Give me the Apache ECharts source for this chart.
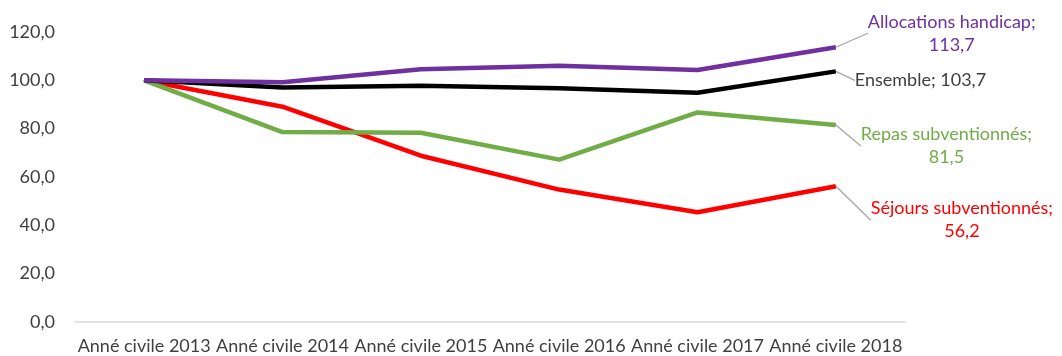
<!DOCTYPE html>
<html>
<head>
<meta charset="utf-8">
<script src="https://cdn.jsdelivr.net/npm/echarts@6/dist/echarts.min.js"></script>
<style>
  html, body { margin: 0; padding: 0; background: #fff; }
  #chart { width: 1062px; height: 356px; }
</style>
</head>
<body>
<div id="chart"></div>
<script>
const categories = ["Anné civile 2013", "Anné civile 2014", "Anné civile 2015", "Anné civile 2016", "Anné civile 2017", "Anné civile 2018"];

const allocations = [100, 99.2, 104.6, 106.0, 104.3, 113.7];
const ensemble = [100, 97.0, 97.8, 96.7, 94.9, 103.7];
const repas = [100, 78.6, 78.3, 67.2, 86.7, 81.5];
const sejours = [100, 89.1, 68.8, 54.8, 45.4, 56.2];

const seriesNames = ["Allocations handicap", "Ensemble", "Repas subventionnés", "Séjours subventionnés"];
const seriesValues = [allocations, ensemble, repas, sejours];
const colors = ["#7030A0", "#000000", "#70AD47", "#FF0000"];
const labelColors = ["#7030A0", "#404040", "#70AD47", "#FF0000"];

// label placement relative to the last point: left edge, centre y, leader elbow, leader end
const labelPlace = [
  { left: 32, cy: -14, elbow: [15, -14], end: [25, -14], twoLines: true },
  { left: 19, cy: 9, elbow: [3, 8], end: [11, 8], twoLines: false },
  { left: 25, cy: 21, elbow: [6, 20], end: [16, 20], twoLines: true },
  { left: 35, cy: 34, elbow: [18, 32], end: [26, 32], twoLines: true },
];

const fmt = (v) => v.toFixed(1).replace(".", ",");
const font = "Lato, 'Open Sans', sans-serif";

const chart = echarts.init(document.getElementById("chart"));

const series = seriesNames.map((name, si) => {
  const vals = seriesValues[si];
  return {
    name: name,
    type: "line",
    data: vals.map((v, i) => {
      if (i !== vals.length - 1) return v;
      return {
        value: v,
        label: {
          show: true,
          color: labelColors[si],
          fontFamily: font,
          fontSize: 18,
          lineHeight: 23,
          align: "center",
          verticalAlign: "middle",
          formatter: () => labelPlace[si].twoLines ? name + ";\n" + fmt(v) : name + "; " + fmt(v),
        },
        labelLine: {
          show: true,
          lineStyle: { color: "#A6A6A6", width: 1.3 },
        },
      };
    }),
    symbol: "circle",
    symbolSize: 1,
    showSymbol: true,
    silent: true,
    animation: false,
    lineStyle: { color: colors[si], width: 4.5 },
    itemStyle: { color: colors[si] },
    z: 10 - si,
    labelLayout: (params) => {
      if (params.dataIndex !== vals.length - 1) return {};
      const p = labelPlace[si];
      const px = params.rect.x + params.rect.width / 2;
      const py = params.rect.y + params.rect.height / 2;
      return {
        x: px + p.left + params.labelRect.width / 2,
        y: py + p.cy,
        align: "center",
        verticalAlign: "middle",
        labelLinePoints: [
          [px, py],
          [px + p.elbow[0], py + p.elbow[1]],
          [px + p.end[0], py + p.end[1]],
        ],
      };
    },
  };
});

const option = {
  animation: false,
  grid: { left: 75, right: 157, top: 32, bottom: 34, containLabel: false },
  xAxis: {
    type: "category",
    data: categories,
    boundaryGap: true,
    axisLine: { show: true, lineStyle: { color: "#D9D9D9", width: 1.5 } },
    axisTick: { show: false },
    axisLabel: {
      color: "#404040",
      fontFamily: font,
      fontSize: 18,
      margin: 15,
      interval: 0,
    },
  },
  yAxis: {
    type: "value",
    min: 0,
    max: 120,
    interval: 20,
    axisLine: { show: false },
    axisTick: { show: false },
    splitLine: { show: false },
    axisLabel: {
      color: "#404040",
      fontFamily: font,
      fontSize: 18,
      margin: 20,
      formatter: (v) => fmt(v),
    },
  },
  series: series,
};

chart.setOption(option);
</script>
</body>
</html>
